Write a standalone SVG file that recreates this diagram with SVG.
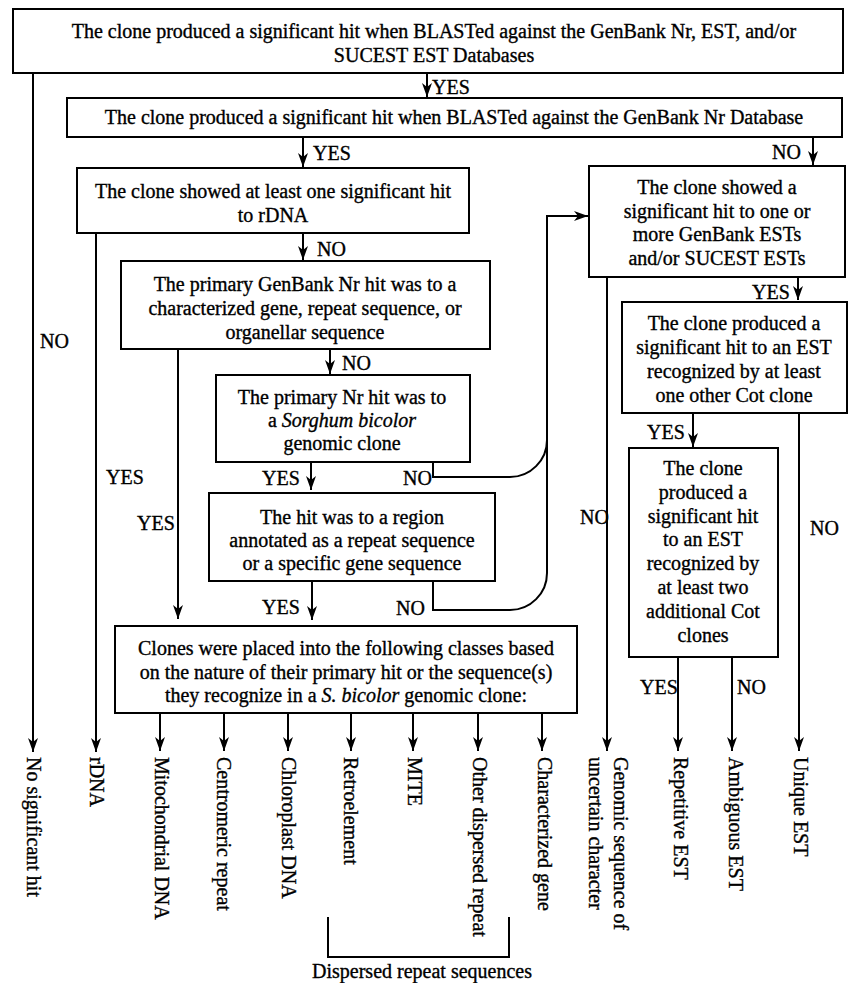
<svg xmlns="http://www.w3.org/2000/svg" width="849" height="983" viewBox="0 0 849 983">
<style>
  text { font-family: "Liberation Serif", "Times New Roman", serif; font-size: 20px; fill: #000; stroke: #000; stroke-width: 0.35; }
  .c { text-anchor: middle; }
  .box { fill: #fff; stroke: #000; stroke-width: 2; }
  .ln { fill: none; stroke: #000; stroke-width: 2; }
  .ar { marker-end: url(#arr); }
  .it { font-style: italic; }
</style>
<defs>
  <marker id="arr" markerUnits="userSpaceOnUse" viewBox="0 0 14 10" refX="14" refY="5" markerWidth="14" markerHeight="10" orient="auto">
    <path d="M14,5 L0,0 L4,5 L0,10 Z" fill="#000"/>
  </marker>
</defs>
<rect width="849" height="983" fill="#fff"/>

<g id="connectors">
  <path class="ln ar" d="M33,73 V752"/>
  <path class="ln ar" d="M427,73 V97"/>
  <path class="ln ar" d="M303,137 V167"/>
  <path class="ln ar" d="M813,137 V165"/>
  <path class="ln ar" d="M96,233 V752"/>
  <path class="ln ar" d="M303,233 V260"/>
  <path class="ln ar" d="M178,349 V619"/>
  <path class="ln ar" d="M330,349 V374"/>
  <path class="ln ar" d="M311,462 V490"/>
  <path class="ln ar" d="M433,462 V477 H510 A37,37 0 0 0 547,440 V216 H588"/>
  <path class="ln" d="M433,581 V610 H510 A37,37 0 0 0 547,573 V440"/>
  <path class="ln ar" d="M312,581 V620"/>
  <path class="ln ar" d="M160,713 V751"/>
  <path class="ln ar" d="M224,713 V751"/>
  <path class="ln ar" d="M288,713 V751"/>
  <path class="ln ar" d="M351,713 V751"/>
  <path class="ln ar" d="M413,713 V751"/>
  <path class="ln ar" d="M478,713 V751"/>
  <path class="ln ar" d="M542,713 V751"/>
  <path class="ln ar" d="M798,277 V300"/>
  <path class="ln ar" d="M607,277 V751"/>
  <path class="ln ar" d="M693,413 V447"/>
  <path class="ln ar" d="M799,413 V751"/>
  <path class="ln ar" d="M678,657 V751"/>
  <path class="ln ar" d="M732,657 V751"/>
  <path class="ln" d="M328,917 V957 H509 V917"/>
</g>

<g id="edge-labels">
  <text x="432" y="94">YES</text>
  <text x="313" y="160">YES</text>
  <text x="772" y="159">NO</text>
  <text x="40" y="348">NO</text>
  <text x="317" y="256">NO</text>
  <text x="106" y="484">YES</text>
  <text x="342" y="370">NO</text>
  <text x="137" y="530">YES</text>
  <text x="262" y="485">YES</text>
  <text x="403" y="485">NO</text>
  <text x="262" y="614">YES</text>
  <text x="396" y="615">NO</text>
  <text x="580" y="524">NO</text>
  <text x="752" y="299">YES</text>
  <text x="810" y="535">NO</text>
  <text x="647" y="439">YES</text>
  <text x="640" y="694">YES</text>
  <text x="737" y="694">NO</text>
</g>

<g id="n1">
  <rect class="box" x="13" y="9" width="830" height="64"/>
  <text class="c" x="434" y="38">The clone produced a significant hit when BLASTed against the GenBank Nr, EST, and/or</text>
  <text class="c" x="434" y="62">SUCEST EST Databases</text>
</g>
<g id="n2">
  <rect class="box" x="67" y="98" width="775" height="39"/>
  <text class="c" x="454" y="124">The clone produced a significant hit when BLASTed against the GenBank Nr Database</text>
</g>
<g id="n3">
  <rect class="box" x="77" y="168" width="392" height="65"/>
  <text class="c" x="273" y="198">The clone showed at least one significant hit</text>
  <text class="c" x="273" y="222">to rDNA</text>
</g>
<g id="n4">
  <rect class="box" x="121" y="261" width="369" height="88"/>
  <text class="c" x="305" y="291">The primary GenBank Nr hit was to a</text>
  <text class="c" x="305" y="315">characterized gene, repeat sequence, or</text>
  <text class="c" x="305" y="339">organellar sequence</text>
</g>
<g id="n5">
  <rect class="box" x="216" y="375" width="254" height="87"/>
  <text class="c" x="342" y="404">The primary Nr hit was to</text>
  <text class="c" x="342" y="427">a <tspan class="it">Sorghum bicolor</tspan></text>
  <text class="c" x="342" y="450">genomic clone</text>
</g>
<g id="n6">
  <rect class="box" x="209" y="493" width="286" height="88"/>
  <text class="c" x="352" y="524">The hit was to a region</text>
  <text class="c" x="352" y="547">annotated as a repeat sequence</text>
  <text class="c" x="352" y="570">or a specific gene sequence</text>
</g>
<g id="n7">
  <rect class="box" x="115" y="626" width="462" height="87"/>
  <text class="c" x="346" y="655">Clones were placed into the following classes based</text>
  <text class="c" x="346" y="679">on the nature of their primary hit or the sequence(s)</text>
  <text class="c" x="346" y="702">they recognize in a <tspan class="it">S. bicolor</tspan> genomic clone:</text>
</g>
<g id="r1">
  <rect class="box" x="589" y="166" width="256" height="111"/>
  <text class="c" x="717" y="194">The clone showed a</text>
  <text class="c" x="717" y="218">significant hit to one or</text>
  <text class="c" x="717" y="241">more GenBank ESTs</text>
  <text class="c" x="717" y="265">and/or SUCEST ESTs</text>
</g>
<g id="r2">
  <rect class="box" x="622" y="302" width="225" height="111"/>
  <text class="c" x="734" y="330">The clone produced a</text>
  <text class="c" x="734" y="354">significant hit to an EST</text>
  <text class="c" x="734" y="378">recognized by at least</text>
  <text class="c" x="734" y="402">one other Cot clone</text>
</g>
<g id="r3">
  <rect class="box" x="629" y="448" width="149" height="209"/>
  <text class="c" x="703" y="475">The clone</text>
  <text class="c" x="703" y="499">produced a</text>
  <text class="c" x="703" y="523">significant hit</text>
  <text class="c" x="703" y="546">to an EST</text>
  <text class="c" x="703" y="570">recognized by</text>
  <text class="c" x="703" y="594">at least two</text>
  <text class="c" x="703" y="618">additional Cot</text>
  <text class="c" x="703" y="642">clones</text>
</g>

<g id="outcomes">
  <text transform="translate(27,757) rotate(90)">No significant hit</text>
  <text transform="translate(90,757) rotate(90)">rDNA</text>
  <text transform="translate(155,757) rotate(90)">Mitochondrial DNA</text>
  <text transform="translate(217,757) rotate(90)">Centromeric repeat</text>
  <text transform="translate(282,757) rotate(90)">Chloroplast DNA</text>
  <text transform="translate(344,757) rotate(90)">Retroelement</text>
  <text transform="translate(408,757) rotate(90)">MITE</text>
  <text transform="translate(473,757) rotate(90)">Other dispersed repeat</text>
  <text transform="translate(538,757) rotate(90)">Characterized gene</text>
  <text transform="translate(614,757) rotate(90)">Genomic sequence of</text>
  <text transform="translate(589,757) rotate(90)">uncertain character</text>
  <text transform="translate(674,757) rotate(90)">Repetitive EST</text>
  <text transform="translate(729,757) rotate(90)">Ambiguous EST</text>
  <text transform="translate(794,757) rotate(90)">Unique EST</text>
  <text class="c" x="422" y="978">Dispersed repeat sequences</text>
</g>
</svg>
